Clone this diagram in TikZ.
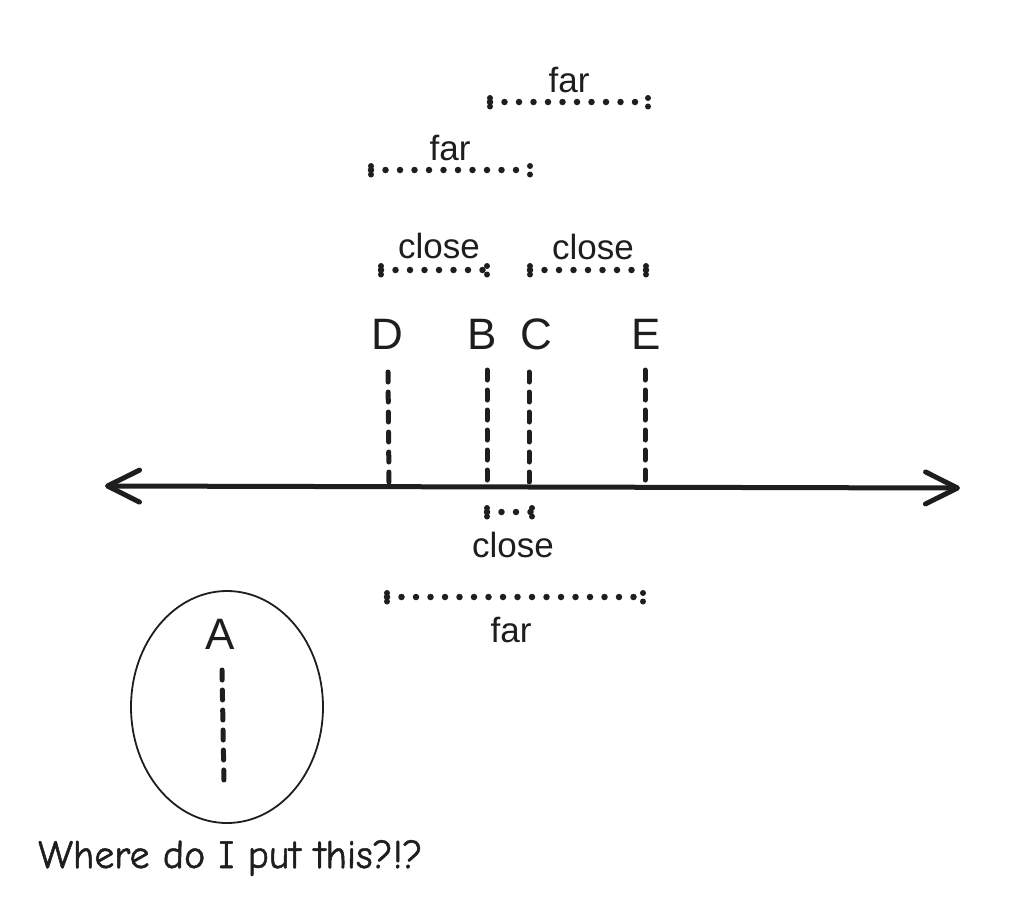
\documentclass[tikz,border=0pt]{standalone}
\usepackage{fontspec}
\setmainfont{Liberation Sans}
\newfontfamily\handfont[FakeBold=1.2]{Comic Neue}
\usetikzlibrary{arrows.meta,shapes.geometric}
\begin{document}
\begin{tikzpicture}[x=1pt,y=-1pt,
  axisline/.style={line width=5pt,draw={rgb,255:red,30;green,30;blue,30},
     {Straight Barb[length=32pt,width=32pt,line width=5pt,round]}-{Straight Barb[length=32pt,width=32pt,line width=5pt,round]}},
  vdash/.style={line width=5pt,line cap=round,dash pattern=on 10pt off 10pt,draw={rgb,255:red,30;green,30;blue,30}},
  dimline/.style={line width=6.5pt,line cap=round,dash pattern=on 0pt off 14.5pt,draw={rgb,255:red,30;green,30;blue,30}},
  tickmark/.style={line width=6pt,line cap=round,dash pattern=on 0pt off 8.5pt,draw={rgb,255:red,30;green,30;blue,30}},
  letter/.style={font=\fontsize{44}{52}\selectfont,text={rgb,255:red,30;green,30;blue,30},inner sep=0pt},
  lbl/.style={font=\fontsize{35}{42}\selectfont,text={rgb,255:red,30;green,30;blue,30},inner sep=0pt},
]
\useasboundingbox (0,0) rectangle (1024,908);

% main axis
\coordinate (L) at (105,486);
\coordinate (R) at (960,488);
\draw[axisline] (L) -- (R);

% letters
\node[letter] (D) at (387,334) {D};
\node[letter] (B) at (482,334) {B};
\node[letter] (C) at (536,334) {C};
\node[letter] (E) at (646,334) {E};

% dashed verticals
\coordinate (Dt) at (388,372); \coordinate (Db) at (389,484);
\coordinate (Bt) at (487,370); \coordinate (Bb) at (487,485);
\coordinate (Ct) at (529,372); \coordinate (Cb) at (529,485);
\coordinate (Et) at (645,370); \coordinate (Eb) at (645,486);
\draw[vdash] (Dt) -- (Db);
\draw[vdash] (Bt) -- (Bb);
\draw[vdash] (Ct) -- (Cb);
\draw[vdash] (Et) -- (Eb);

% top far
\coordinate (f1a) at (490,102); \coordinate (f1b) at (648,102);
\draw[dimline] (f1a) -- (f1b);
\draw[tickmark] ([yshift=-4.5pt]f1a) -- ([yshift=4.5pt]f1a);
\draw[tickmark] ([yshift=-4.5pt]f1b) -- ([yshift=4.5pt]f1b);
\node[lbl] (far1) at (569,80) {far};

% second far
\coordinate (f2a) at (371,170); \coordinate (f2b) at (530,170);
\draw[dimline] (f2a) -- (f2b);
\draw[tickmark] ([yshift=-4.5pt]f2a) -- ([yshift=4.5pt]f2a);
\draw[tickmark] ([yshift=-4.5pt]f2b) -- ([yshift=4.5pt]f2b);
\node[lbl] (far2) at (450,148) {far};

% close left
\coordinate (c1a) at (381,270); \coordinate (c1b) at (487,270);
\draw[dimline] (c1a) -- (c1b);
\draw[tickmark] ([yshift=-4.5pt]c1a) -- ([yshift=4.5pt]c1a);
\draw[tickmark] ([yshift=-4.5pt]c1b) -- ([yshift=4.5pt]c1b);
\node[lbl] (close1) at (439,246) {close};

% close right
\coordinate (c2a) at (530,270); \coordinate (c2b) at (646,270);
\draw[dimline] (c2a) -- (c2b);
\draw[tickmark] ([yshift=-4.5pt]c2a) -- ([yshift=4.5pt]c2a);
\draw[tickmark] ([yshift=-4.5pt]c2b) -- ([yshift=4.5pt]c2b);
\node[lbl] (close2) at (593,247) {close};

% close below
\coordinate (c3a) at (487,512); \coordinate (c3b) at (532,512);
\draw[dimline] (c3a) -- (c3b);
\draw[tickmark] ([yshift=-4.5pt]c3a) -- ([yshift=4.5pt]c3a);
\draw[tickmark] ([yshift=-4.5pt]c3b) -- ([yshift=4.5pt]c3b);
\node[lbl] (close3) at (513,545) {close};

% far below
\coordinate (f3a) at (387,597); \coordinate (f3b) at (643,597);
\draw[dimline] (f3a) -- (f3b);
\draw[tickmark] ([yshift=-4.5pt]f3a) -- ([yshift=4.5pt]f3a);
\draw[tickmark] ([yshift=-4.5pt]f3b) -- ([yshift=4.5pt]f3b);
\node[lbl] (far3) at (511,630) {far};

% circled A
\node[ellipse,draw={rgb,255:red,30;green,30;blue,30},line width=1.8pt,minimum width=192pt,minimum height=232pt,inner sep=0pt] (Aell) at (227,707) {};
\node[letter] (A) at (220,634) {A};
\coordinate (At) at (222,670); \coordinate (Ab) at (224,783);
\draw[vdash] (At) -- (Ab);

% handwritten question
\node[font=\handfont\fontsize{40}{46}\selectfont,text={rgb,255:red,30;green,30;blue,30},anchor=west,inner sep=0pt] (q) at (38,858) {Where do I put this?!?};
\end{tikzpicture}
\end{document}
